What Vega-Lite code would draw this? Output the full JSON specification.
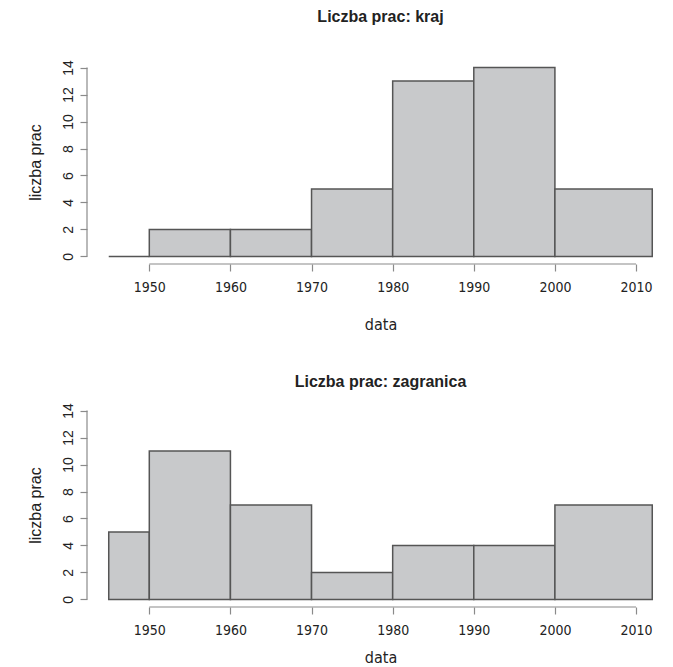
{
  "$schema": "https://vega.github.io/schema/vega-lite/v6.json",
  "padding": {"left": 27, "top": 8, "right": 0, "bottom": 0},
  "background": "white",
  "spacing": 41,
  "config": {
    "view": {"stroke": null},
    "axis": {
      "grid": false,
      "domain": false,
      "tickColor": "#8a8a8a",
      "tickSize": 7,
      "tickWidth": 1.2,
      "labelColor": "#222222",
      "titleColor": "#222222",
      "titleFontWeight": "normal",
      "labelOverlap": false
    },
    "title": {"fontSize": 16, "fontWeight": "bold", "font": "Liberation Sans", "color": "#222222", "anchor": "middle"}
  },
  "data": {
    "values": [
      {"panel": "kraj", "start": 1945, "end": 1950, "count": 0},
      {"panel": "kraj", "start": 1950, "end": 1960, "count": 2},
      {"panel": "kraj", "start": 1960, "end": 1970, "count": 2},
      {"panel": "kraj", "start": 1970, "end": 1980, "count": 5},
      {"panel": "kraj", "start": 1980, "end": 1990, "count": 13},
      {"panel": "kraj", "start": 1990, "end": 2000, "count": 14},
      {"panel": "kraj", "start": 2000, "end": 2012, "count": 5},
      {"panel": "zagranica", "start": 1945, "end": 1950, "count": 5},
      {"panel": "zagranica", "start": 1950, "end": 1960, "count": 11},
      {"panel": "zagranica", "start": 1960, "end": 1970, "count": 7},
      {"panel": "zagranica", "start": 1970, "end": 1980, "count": 2},
      {"panel": "zagranica", "start": 1980, "end": 1990, "count": 4},
      {"panel": "zagranica", "start": 1990, "end": 2000, "count": 4},
      {"panel": "zagranica", "start": 2000, "end": 2012, "count": 7}
    ]
  },
  "vconcat": [
    {
      "width": 587,
      "height": 204,
      "title": {"text": "Liczba prac: kraj", "offset": 35},
      "layer": [
        {
          "transform": [{"filter": "datum.panel === 'kraj'"}],
          "mark": {"type": "bar", "fill": "#c8c9cb", "stroke": "#555555", "strokeWidth": 1.5},
          "encoding": {
            "x": {"field": "start", "type": "quantitative",
              "scale": {"domain": [1942.32, 2014.68], "nice": false, "zero": false},
              "axis": {"values": [1950, 1960, 1970, 1980, 1990, 2000, 2010], "format": "d", "title": "data",
                "labelOverlap": false, "tickCount": 20,
                "labelFont": "DejaVu Sans Condensed, Liberation Sans, sans-serif", "labelFontSize": 14, "labelPadding": 9,
                "titleFont": "DejaVu Sans Condensed, Liberation Sans, sans-serif", "titleFontSize": 16, "titlePadding": 22}},
            "x2": {"field": "end"},
            "y": {"field": "count", "type": "quantitative",
              "scale": {"domain": [-0.56, 14.56], "nice": false, "zero": false},
              "axis": {"values": [0, 2, 4, 6, 8, 10, 12, 14], "title": "liczba prac",
                "labelOverlap": false, "labelFlush": false, "labelBound": false, "tickCount": 20,
                "labelAngle": -90, "labelAlign": "center", "labelBaseline": "bottom",
                "labelFont": "Liberation Sans", "labelFontSize": 14, "labelPadding": 5,
                "titleFont": "Liberation Sans", "titleFontSize": 16, "titlePadding": 18}},
            "y2": {"datum": 0}
          }
        },
        {
          "data": {"values": [{}]},
          "mark": {"type": "rule", "color": "#8a8a8a", "strokeWidth": 1.2},
          "encoding": {"x": {"datum": 1950}, "x2": {"datum": 2010}, "y": {"datum": -0.56}}
        },
        {
          "data": {"values": [{}]},
          "mark": {"type": "rule", "color": "#8a8a8a", "strokeWidth": 1.2},
          "encoding": {"x": {"datum": 1942.32}, "y": {"datum": 0}, "y2": {"datum": 14}}
        }
      ]
    },
    {
      "width": 587,
      "height": 204,
      "title": {"text": "Liczba prac: zagranica", "offset": 13},
      "layer": [
        {
          "transform": [{"filter": "datum.panel === 'zagranica'"}],
          "mark": {"type": "bar", "fill": "#c8c9cb", "stroke": "#555555", "strokeWidth": 1.5},
          "encoding": {
            "x": {"field": "start", "type": "quantitative",
              "scale": {"domain": [1942.32, 2014.68], "nice": false, "zero": false},
              "axis": {"values": [1950, 1960, 1970, 1980, 1990, 2000, 2010], "format": "d", "title": "data",
                "labelOverlap": false, "tickCount": 20,
                "labelFont": "DejaVu Sans Condensed, Liberation Sans, sans-serif", "labelFontSize": 14, "labelPadding": 9,
                "titleFont": "DejaVu Sans Condensed, Liberation Sans, sans-serif", "titleFontSize": 16, "titlePadding": 12}},
            "x2": {"field": "end"},
            "y": {"field": "count", "type": "quantitative",
              "scale": {"domain": [-0.56, 14.56], "nice": false, "zero": false},
              "axis": {"values": [0, 2, 4, 6, 8, 10, 12, 14], "title": "liczba prac",
                "labelOverlap": false, "labelFlush": false, "labelBound": false, "tickCount": 20,
                "labelAngle": -90, "labelAlign": "center", "labelBaseline": "bottom",
                "labelFont": "Liberation Sans", "labelFontSize": 14, "labelPadding": 5,
                "titleFont": "Liberation Sans", "titleFontSize": 16, "titlePadding": 18}},
            "y2": {"datum": 0}
          }
        },
        {
          "data": {"values": [{}]},
          "mark": {"type": "rule", "color": "#8a8a8a", "strokeWidth": 1.2},
          "encoding": {"x": {"datum": 1950}, "x2": {"datum": 2010}, "y": {"datum": -0.56}}
        },
        {
          "data": {"values": [{}]},
          "mark": {"type": "rule", "color": "#8a8a8a", "strokeWidth": 1.2},
          "encoding": {"x": {"datum": 1942.32}, "y": {"datum": 0}, "y2": {"datum": 14}}
        }
      ]
    }
  ]
}
